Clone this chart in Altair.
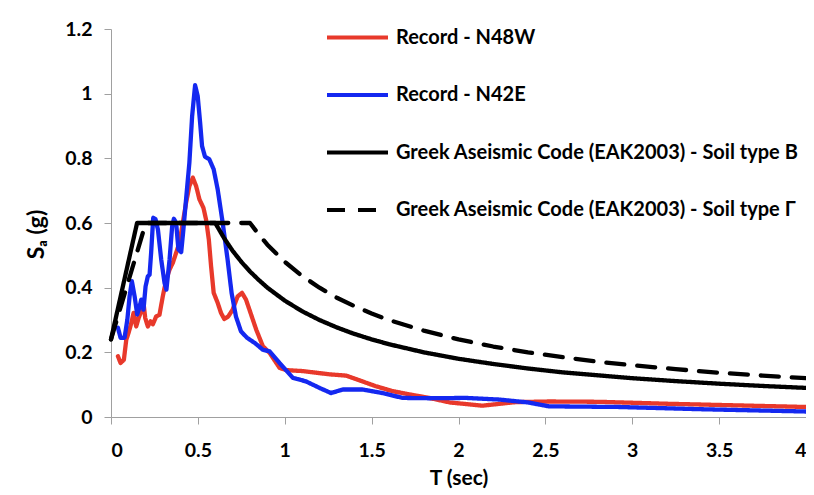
import altair as alt
import pandas as pd

# ---- data ----
SERIES = [
    "Record - N48W",
    "Record - N42E",
    "Greek Aseismic Code (EAK2003) - Soil type B",
    "Greek Aseismic Code (EAK2003) - Soil type Γ",
]
COLORS = ["#e8392b", "#1428f0", "#000000", "#000000"]
DASHES = [[1, 0], [1, 0], [1, 0], [18, 13]]

T_N48W = [0.040, 0.055, 0.074, 0.088, 0.101, 0.117, 0.130, 0.145, 0.159, 0.174,
          0.187, 0.197, 0.212, 0.228, 0.241, 0.260, 0.279, 0.298, 0.318, 0.337,
          0.356, 0.375, 0.394, 0.413, 0.432, 0.451, 0.471, 0.490, 0.509, 0.532,
          0.547, 0.563, 0.576, 0.591, 0.614, 0.633, 0.652, 0.675, 0.700, 0.729,
          0.754, 0.777, 0.798, 0.836, 0.874, 0.913, 0.970, 1.008, 1.104, 1.180,
          1.257, 1.353, 1.448, 1.525, 1.620, 1.716, 1.831, 1.950, 2.137, 2.328,
          2.520, 2.807, 3.200, 3.600, 4.000]
SA_N48W = [0.188, 0.167, 0.177, 0.239, 0.260, 0.291, 0.322, 0.280, 0.306, 0.327,
           0.353, 0.306, 0.280, 0.296, 0.287, 0.311, 0.316, 0.373, 0.425, 0.456,
           0.477, 0.508, 0.539, 0.600, 0.662, 0.714, 0.740, 0.714, 0.673, 0.647,
           0.611, 0.549, 0.466, 0.384, 0.353, 0.322, 0.303, 0.311, 0.332, 0.373,
           0.384, 0.363, 0.330, 0.270, 0.219, 0.198, 0.152, 0.145, 0.142, 0.137,
           0.132, 0.128, 0.110, 0.095, 0.080, 0.070, 0.059, 0.045, 0.035, 0.046,
           0.048, 0.047, 0.041, 0.036, 0.031]

T_N42E = [0.040, 0.055, 0.078, 0.094, 0.107, 0.120, 0.136, 0.151, 0.165, 0.174,
          0.187, 0.199, 0.212, 0.222, 0.231, 0.243, 0.256, 0.270, 0.289, 0.308,
          0.319, 0.337, 0.352, 0.362, 0.375, 0.388, 0.404, 0.415, 0.432, 0.451,
          0.467, 0.484, 0.499, 0.513, 0.524, 0.541, 0.566, 0.591, 0.614, 0.643,
          0.671, 0.694, 0.719, 0.748, 0.783, 0.830, 0.874, 0.913, 0.970, 1.047,
          1.123, 1.200, 1.267, 1.334, 1.448, 1.563, 1.678, 1.831, 2.042, 2.233,
          2.400, 2.520, 2.922, 3.400, 4.000]
SA_N42E = [0.276, 0.245, 0.245, 0.301, 0.373, 0.420, 0.373, 0.317, 0.342, 0.363,
           0.332, 0.404, 0.435, 0.440, 0.508, 0.616, 0.612, 0.580, 0.487, 0.415,
           0.394, 0.487, 0.590, 0.613, 0.600, 0.518, 0.510, 0.570, 0.673, 0.786,
           0.931, 1.026, 0.993, 0.910, 0.838, 0.805, 0.797, 0.766, 0.704, 0.600,
           0.487, 0.384, 0.311, 0.265, 0.245, 0.228, 0.208, 0.203, 0.167, 0.121,
           0.110, 0.090, 0.074, 0.085, 0.085, 0.074, 0.059, 0.058, 0.059, 0.054,
           0.045, 0.033, 0.031, 0.024, 0.017]

T_CODE = [0, 0.15, 0.2, 0.6, 0.65, 0.7, 0.75, 0.8, 0.85, 0.9, 1.0, 1.1, 1.2, 1.3,
          1.4, 1.5, 1.6, 1.8, 2.0, 2.2, 2.4, 2.6, 2.8, 3.0, 3.25, 3.5, 3.75, 4.0]
SA_B = [0.24, 0.6, 0.6, 0.6, 0.554, 0.514, 0.48, 0.45, 0.424, 0.4, 0.36, 0.327,
        0.3, 0.277, 0.257, 0.24, 0.225, 0.2, 0.18, 0.164, 0.15, 0.138, 0.129,
        0.12, 0.111, 0.103, 0.096, 0.09]
SA_G = [0.24, 0.51, 0.6, 0.6, 0.6, 0.6, 0.6, 0.6, 0.565, 0.533, 0.48, 0.436,
        0.4, 0.369, 0.343, 0.32, 0.3, 0.267, 0.24, 0.218, 0.2, 0.185, 0.171,
        0.16, 0.148, 0.137, 0.128, 0.12]

X_TICKS = [0, 0.5, 1, 1.5, 2, 2.5, 3, 3.5, 4]
Y_TICKS = [0, 0.2, 0.4, 0.6, 0.8, 1.0, 1.2]

rows = []
for name, ts, vs in [(SERIES[0], T_N48W, SA_N48W), (SERIES[1], T_N42E, SA_N42E),
                     (SERIES[2], T_CODE, SA_B), (SERIES[3], T_CODE, SA_G)]:
    for i, (t, v) in enumerate(zip(ts, vs)):
        rows.append({"series": name, "T": t, "Sa": v, "i": i})
df = pd.DataFrame(rows)

FONT = "Lato, 'Open Sans', sans-serif"

legend_opts = dict(title=None, orient="none", legendX=214, legendY=-24,
                   symbolType="stroke", symbolSize=3721, symbolStrokeWidth=4,
                   labelFont=FONT, labelFontSize=20, labelFontWeight="bold",
                   labelColor="black", labelLimit=800, labelOffset=6,
                   rowPadding=14.5)

chart = alt.Chart(df).mark_line(
    strokeWidth=4.3, strokeCap="round", strokeJoin="round"
).encode(
    x=alt.X("T:Q", scale=alt.Scale(domain=[0, 4], nice=False),
            axis=alt.Axis(values=X_TICKS, format="~g", title="T (sec)",
                          grid=False, domainColor="#a0a0a0", tickColor="#a0a0a0",
                          tickSize=7, labelFontSize=19.5, labelFontWeight="bold",
                          labelFont=FONT, labelColor="black", labelPadding=17,
                          titleFont=FONT, titleFontSize=21, titleFontWeight="bold",
                          titleColor="black", titlePadding=8)),
    y=alt.Y("Sa:Q", scale=alt.Scale(domain=[0, 1.2], nice=False),
            axis=alt.Axis(values=Y_TICKS, format="~g", title="Sₐ (g)",
                          grid=False, domainColor="#a0a0a0", tickColor="#a0a0a0",
                          tickSize=7, labelFontSize=19.5, labelFontWeight="bold",
                          labelFont=FONT, labelColor="black", labelPadding=12,
                          titleFont=FONT, titleFontSize=23, titleFontWeight="bold",
                          titleColor="black", titleX=-63, titleY=205)),
    color=alt.Color("series:N", scale=alt.Scale(domain=SERIES, range=COLORS),
                    legend=alt.Legend(**legend_opts)),
    strokeDash=alt.StrokeDash("series:N",
                              scale=alt.Scale(domain=SERIES, range=DASHES),
                              legend=alt.Legend(**legend_opts)),
    order="i:Q",
    detail="series:N",
).properties(
    width=695, height=388,
    autosize=alt.AutoSizeParams(type="none"),
    padding={"left": 103, "top": 21, "right": 0, "bottom": 78},
).configure_view(stroke=None)

chart.save("out.html", embed_options={"renderer": "svg", "actions": False})
